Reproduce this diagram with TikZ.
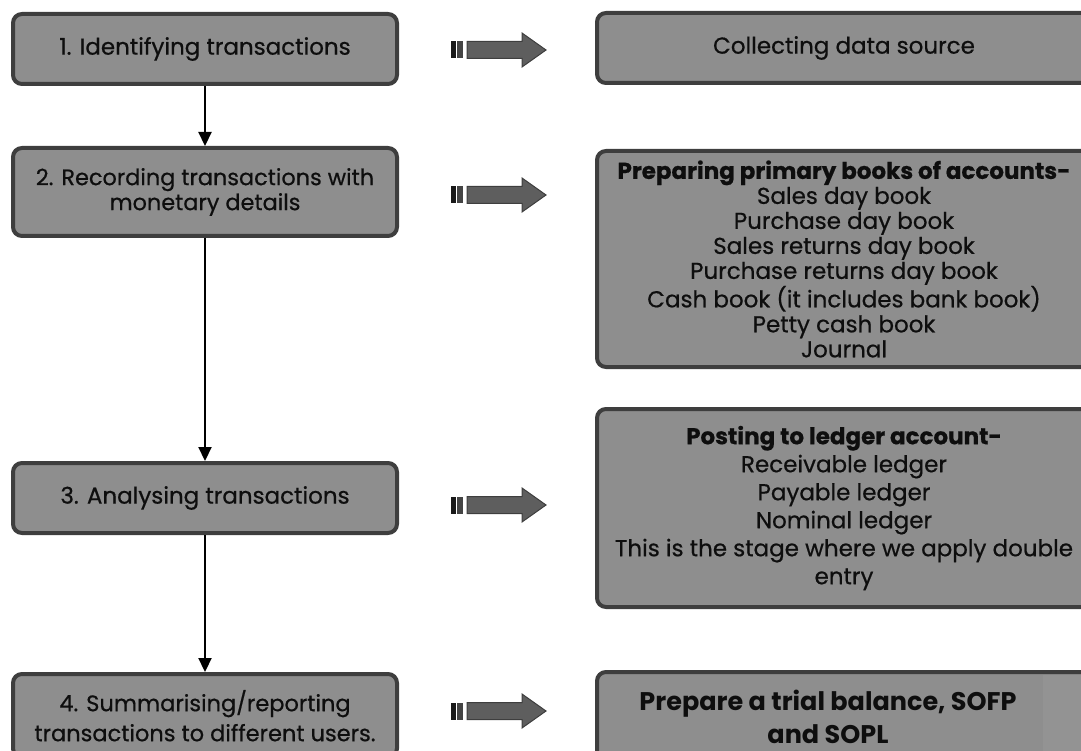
\documentclass[tikz,border=0pt]{standalone}
\usepackage{fontspec}
\setmainfont{Poppins}
\newfontfamily\boxfont{Poppins}[FakeBold=0.6]
\usetikzlibrary{positioning,arrows.meta,calc}

\definecolor{boxfill}{HTML}{8E8E8E}
\definecolor{boxline}{HTML}{3E3E3E}
\definecolor{inktext}{HTML}{0E0E0E}
\definecolor{arrbody}{HTML}{5E5E5E}
\definecolor{arrdark}{HTML}{444444}
\definecolor{patchgrey}{HTML}{939393}

\tikzset{
  stage/.style={draw=boxline, line width=4pt, fill=boxfill, rounded corners=9pt,
    minimum width=384pt, align=center, text=inktext, font=\boxfont\fontsize{23}{25}\selectfont},
  task/.style={stage, minimum width=494pt},
  flow/.style={-{Triangle[width=13pt,length=14pt]}, line width=2.2pt, black},
}

% block arrow, tail at #1
\newcommand{\bigarrow}[1]{%
  \begin{scope}[shift={(#1)}]
    \fill[black!90] (0,-8.5) rectangle (5,8.5);
    \fill[arrdark] (6,-8.5) rectangle (12,8.5);
    \filldraw[fill=arrbody, draw=boxline, line width=1pt]
      (16,-8.5) -- (71,-8.5) -- (71,-17) -- (95,0) -- (71,17) -- (71,8.5) -- (16,8.5) -- cycle;
  \end{scope}}

\begin{document}
\begin{tikzpicture}[x=1pt, y=-1pt]
  \clip (0,0) rectangle (1081,751);

  \node[stage, minimum height=70pt] (identify) at (205,49) {1. Identifying transactions};
  \node[stage, minimum height=88pt, font=\boxfont\fontsize{22.4}{25}\selectfont] (record) at (205,192)
    {2. Recording transactions with\\monetary details};
  \node[stage, minimum height=70pt] (analyse) at (205,498) {3. Analysing transactions};
  \node[stage, anchor=north, inner ysep=16pt, font=\boxfont\fontsize{22.5}{30}\selectfont] (report) at (205,672)
    {4. Summarising/reporting\\transactions to different users.};

  \node[task, minimum height=70pt] (source) at (844,48) {Collecting data source};
  \node[task, minimum height=216pt] (books) at (844,259)
    {\textbf{Preparing primary books of accounts-}\\Sales day book\\Purchase day book\\
     Sales returns day book\\Purchase returns day book\\Cash book (it includes bank book)\\
     Petty cash book\\Journal};
  \node[task, minimum height=198pt, font=\boxfont\fontsize{23}{28}\selectfont] (ledger) at (844,508)
    {\textbf{Posting to ledger account-}\\Receivable ledger\\Payable ledger\\Nominal ledger\\
     This is the stage where we apply double\\entry};
  \node[task, minimum height=130pt] (trial) at (844,737) {};
  \fill[patchgrey] (1043,675) rectangle (1081,751);
  \node[align=center, inner sep=0pt, text=inktext, font=\bfseries\fontsize{25.5}{33}\selectfont] (trialtext) at (828,717)
    {Prepare a trial balance, SOFP\\and SOPL};

  \draw[flow] (identify) -- (record);
  \draw[flow] (record) -- (analyse);
  \draw[flow] (analyse) -- (report);

  \coordinate (t1) at (451,50);
  \coordinate (t2) at (451,195);
  \coordinate (t3) at (451,505);
  \coordinate (t4) at (451,711);
  \bigarrow{t1}
  \bigarrow{t2}
  \bigarrow{t3}
  \bigarrow{t4}
\end{tikzpicture}
\end{document}
